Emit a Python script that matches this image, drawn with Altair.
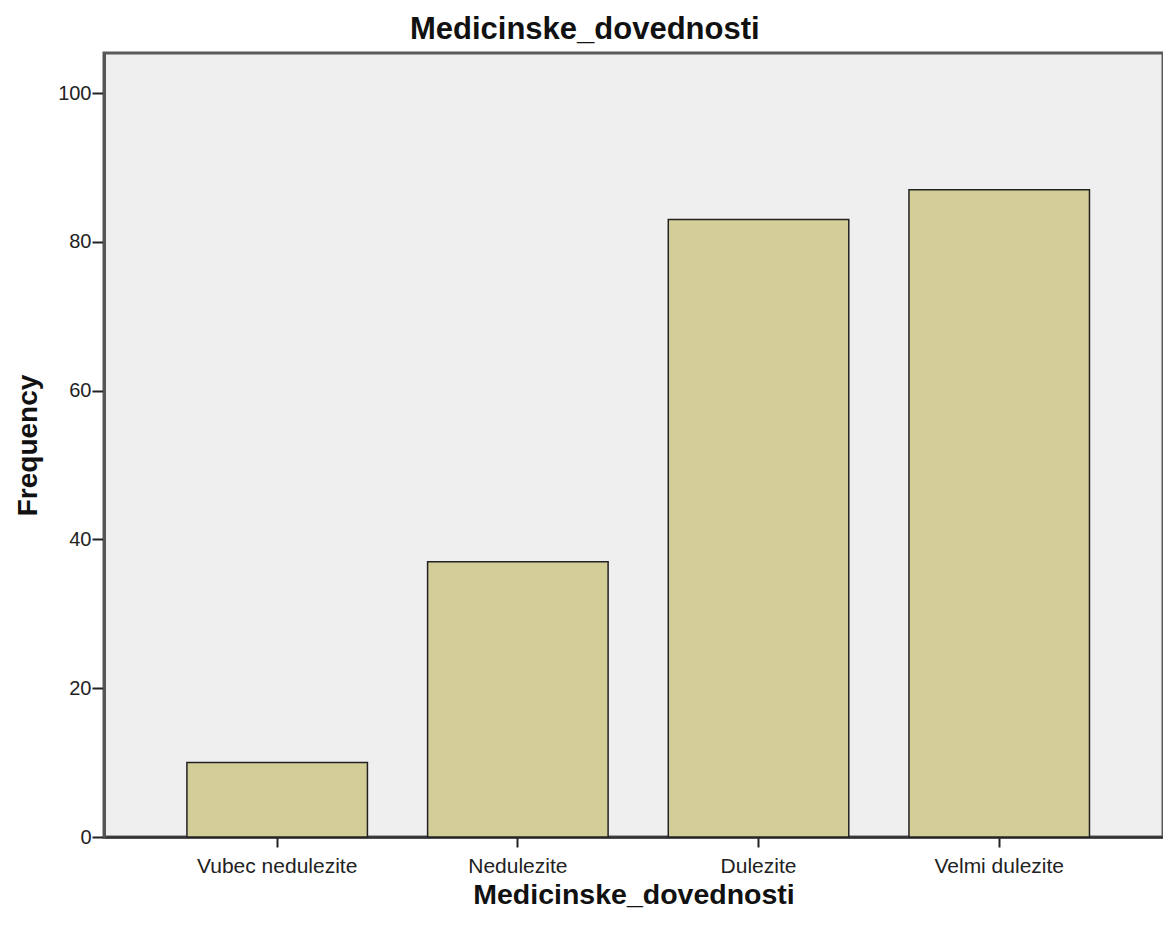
import altair as alt
import pandas as pd

categories = ["Vubec nedulezite", "Nedulezite", "Dulezite", "Velmi dulezite"]
frequencies = [10, 37, 83, 87]
y_ticks = [0, 20, 40, 60, 80, 100]

df = pd.DataFrame({"category": categories, "frequency": frequencies})

FONT = "Liberation Sans"

chart = alt.Chart(df).mark_bar(
    fill="#D3CE98", stroke="#222222", strokeWidth=1.5
).encode(
    x=alt.X(
        "category:N",
        sort=categories,
        scale=alt.Scale(paddingInner=0.25, paddingOuter=0.325, align=0.53),
        axis=alt.Axis(
            title="Medicinske_dovednosti",
            labelAngle=0,
            labelFont=FONT,
            labelFontSize=21,
            labelColor="#222222",
            labelPadding=8,
            tickSize=10,
            tickColor="#222222",
            tickWidth=2,
            domainColor="#333333",
            domainWidth=2.5,
            titleFont=FONT,
            titleFontSize=28.5,
            titleFontWeight="bold",
            titleColor="#111111",
            titlePadding=4,
        ),
    ),
    y=alt.Y(
        "frequency:Q",
        scale=alt.Scale(domain=[0, 105.4], nice=False),
        axis=alt.Axis(
            title="Frequency",
            values=y_ticks,
            grid=False,
            labelFont=FONT,
            labelFontSize=20,
            labelColor="#222222",
            labelPadding=1,
            tickSize=12,
            tickColor="#222222",
            tickWidth=2,
            domainColor="#555555",
            domainWidth=3,
            titleFont=FONT,
            titleFontSize=28,
            titleFontWeight="bold",
            titleColor="#111111",
            titlePadding=15,
        ),
    ),
).properties(
    width=1059,
    height=784,
    autosize=alt.AutoSizeParams(type="none"),
    padding={"left": 96, "top": 45, "right": 0, "bottom": 76},
    title=alt.TitleParams(
        "Medicinske_dovednosti",
        font=FONT,
        fontSize=31,
        fontWeight="bold",
        color="#111111",
        anchor="middle",
        frame="bounds",
        offset=7,
        dx=-4,
    ),
).configure_view(
    fill="#EFEFEF",
    stroke="#5A5A5A",
    strokeWidth=3,
)

chart.save("out.html", embed_options={"renderer": "svg", "actions": False})
